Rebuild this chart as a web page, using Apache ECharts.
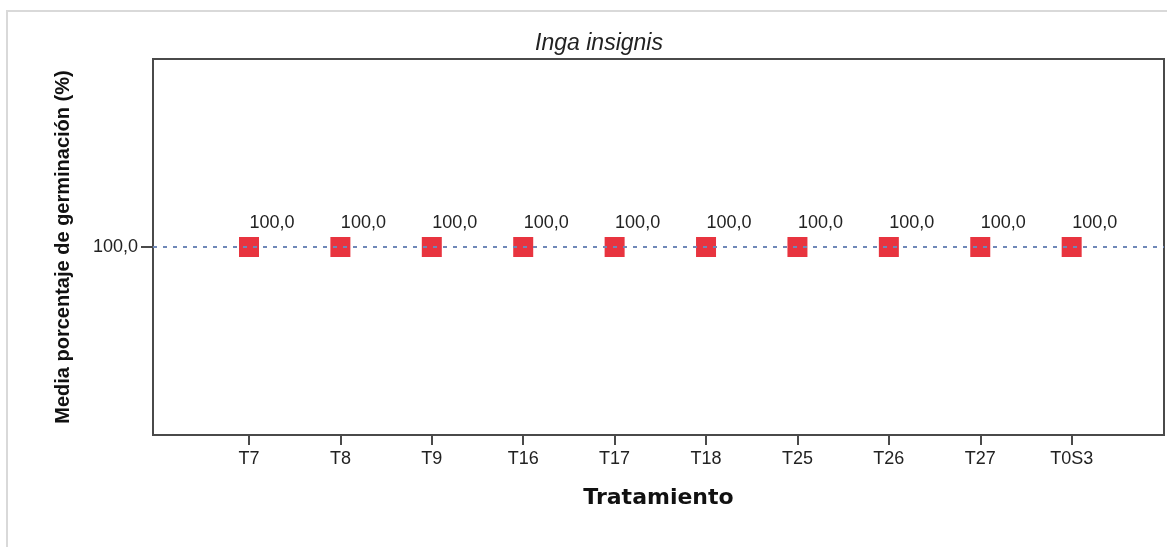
<!DOCTYPE html>
<html>
<head>
<meta charset="utf-8">
<script src="https://cdn.jsdelivr.net/npm/echarts@6/dist/echarts.min.js"></script>
<style>
html,body{margin:0;padding:0;background:#fff;}
#chart{width:1167px;height:547px;}
</style>
</head>
<body>
<div id="chart"></div>
<script>
const categories = ['T7','T8','T9','T16','T17','T18','T25','T26','T27','T0S3'];
const meanValues = [100,100,100,100,100,100,100,100,100,100];
const yTicks = [100];
const titleText = 'Inga insignis';
const xName = 'Tratamiento';
const yName = 'Media porcentaje de germinación (%)';

const chart = echarts.init(document.getElementById('chart'));
const idx = categories.map((c, i) => i);
const points = categories.map((c, i) => [i, meanValues[i]]);

chart.setOption({
  animation: false,
  backgroundColor: '#fff',
  graphic: [{
    type: 'rect', position: [0, 0], shape: {x: 7, y: 11, width: 1200, height: 600},
    style: {fill: 'none', stroke: '#d9d9d9', lineWidth: 2}, silent: true, z: -1
  }],
  title: {
    text: titleText, left: 594, top: 27, textAlign: 'center',
    textStyle: {fontFamily: 'Liberation Sans', fontStyle: 'italic', fontWeight: 'normal', fontSize: 23, color: '#222'}
  },
  grid: {left: 153, right: 3, top: 59, bottom: 112, show: true, borderColor: '#4a4a4a', borderWidth: 2, containLabel: false},
  xAxis: {
    type: 'value', min: -1.05, max: 10.01,
    name: xName, nameLocation: 'middle', nameGap: 52,
    nameTextStyle: {fontFamily: 'DejaVu Sans', fontWeight: 'bold', fontSize: 22, color: '#111'},
    axisLine: {show: true, onZero: false, lineStyle: {color: '#4a4a4a', width: 2}},
    axisTick: {show: true, customValues: idx, length: 10, lineStyle: {color: '#4a4a4a', width: 2}},
    axisLabel: {customValues: idx, formatter: v => categories[Math.round(v)] || '', fontFamily: 'Liberation Sans', fontSize: 18, color: '#222', margin: 15},
    splitLine: {show: false}
  },
  yAxis: {
    type: 'value', min: 99, max: 101,
    name: yName, nameLocation: 'middle', nameGap: 80, nameRotate: 90,
    nameTextStyle: {fontFamily: 'Liberation Sans', fontWeight: 'bold', fontSize: 20, color: '#111'},
    axisLine: {show: true, onZero: false, lineStyle: {color: '#4a4a4a', width: 2}},
    axisTick: {show: true, customValues: yTicks, length: 12, lineStyle: {color: '#4a4a4a', width: 2}},
    axisLabel: {customValues: yTicks, formatter: v => v.toFixed(1).replace('.', ','), fontFamily: 'Liberation Sans', fontSize: 18, color: '#222', margin: 15},
    splitLine: {show: false}
  },
  series: [{
    type: 'scatter',
    data: points,
    symbol: 'rect', symbolSize: 20,
    itemStyle: {color: '#e8343f', opacity: 1},
    emphasis: {disabled: true},
    label: {
      show: true, position: 'inside', offset: [23, -24],
      formatter: p => p.value[1].toFixed(1).replace('.', ','),
      fontFamily: 'Liberation Sans', fontSize: 18, color: '#222', opacity: 1
    },
    z: 3,
    markLine: {
      silent: true, symbol: 'none', label: {show: false},
      lineStyle: {color: '#6f88b8', type: [4, 6], width: 2, opacity: 1},
      data: [{yAxis: meanValues[0]}],
      z: 4
    }
  }]
});
</script>
</body>
</html>
